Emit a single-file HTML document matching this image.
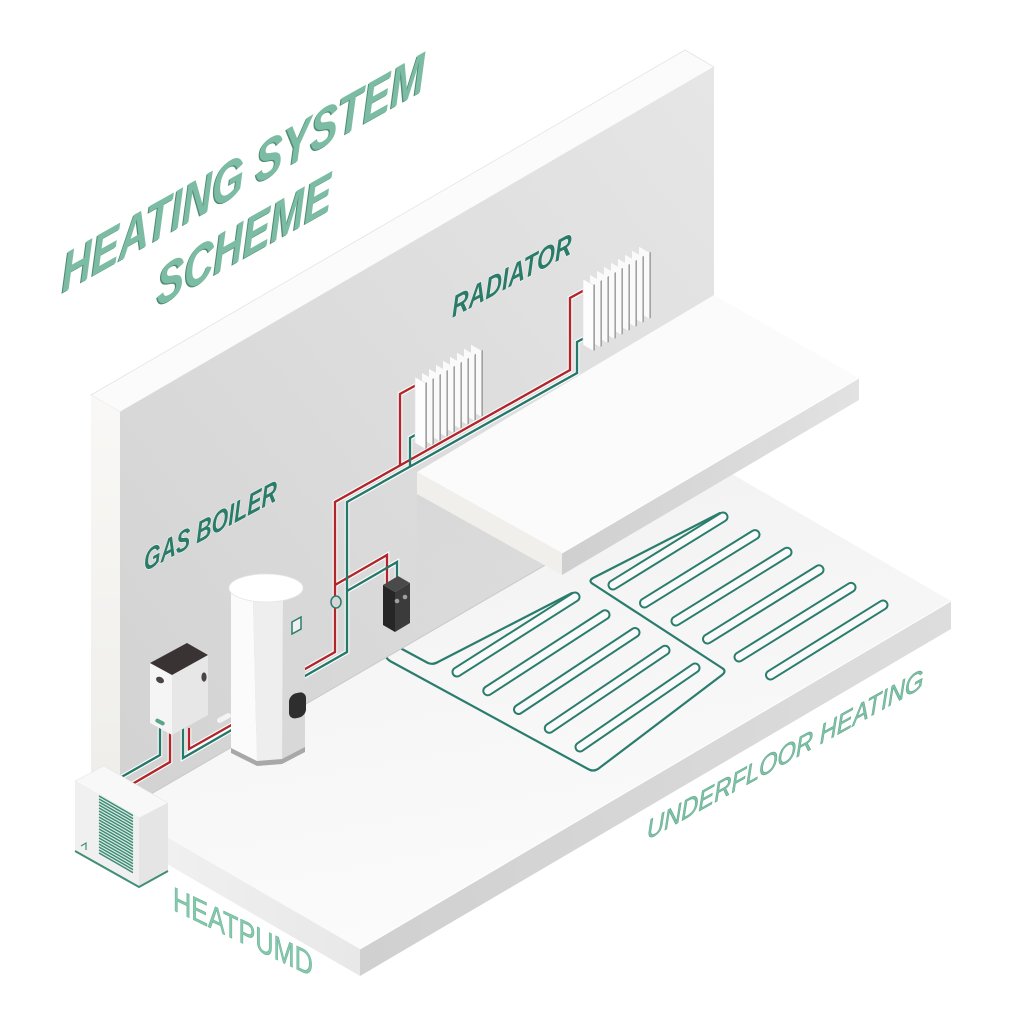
<!DOCTYPE html>
<html><head><meta charset="utf-8">
<style>html,body{margin:0;padding:0;background:#ffffff;}svg{display:block;}</style>
</head>
<body>
<svg width="1024" height="1024" viewBox="0 0 1024 1024" xmlns="http://www.w3.org/2000/svg" font-family="'Liberation Sans', sans-serif">
<defs>
  <linearGradient id="wallG" x1="0" y1="1" x2="1" y2="0">
    <stop offset="0" stop-color="#d2d2d2"/><stop offset="1" stop-color="#e6e6e6"/>
  </linearGradient>
  <linearGradient id="wallL" x1="0" y1="0" x2="0" y2="1">
    <stop offset="0" stop-color="#f9f8f6"/><stop offset="1" stop-color="#eeede9"/>
  </linearGradient>
  <linearGradient id="floorT" x1="0" y1="0" x2="0.3" y2="1">
    <stop offset="0" stop-color="#f0f0f0"/><stop offset="1" stop-color="#fbfbfb"/>
  </linearGradient>
  <linearGradient id="floorR" x1="0" y1="0" x2="1" y2="0">
    <stop offset="0" stop-color="#d0d0d0"/><stop offset="1" stop-color="#dddddd"/>
  </linearGradient>
  <linearGradient id="floorL" x1="0" y1="0" x2="1" y2="0">
    <stop offset="0" stop-color="#f3f3f3"/><stop offset="1" stop-color="#e8e8e8"/>
  </linearGradient>
  <linearGradient id="shelfR" x1="0" y1="0" x2="1" y2="0">
    <stop offset="0" stop-color="#cfcfcf"/><stop offset="1" stop-color="#e2e2e2"/>
  </linearGradient>
  <linearGradient id="under" x1="0" y1="0" x2="0" y2="1">
    <stop offset="0" stop-color="#c9c9c9"/><stop offset="1" stop-color="#d6d6d6" stop-opacity="0"/>
  </linearGradient>
  <g id="rad">
    <polygon points="56,-32.3 66.4,-26.3 66.4,39.7 56,33.7" fill="#fafafa"/><polygon points="66.4,-26.3 68,-27.2 68,38.8 66.4,39.7" fill="#a2a2a2"/>
    <polygon points="49,-28.3 59.4,-22.3 59.4,43.7 49,37.7" fill="#fafafa"/><polygon points="59.4,-22.3 61,-23.2 61,42.8 59.4,43.7" fill="#a2a2a2"/>
    <polygon points="42,-24.2 52.4,-18.2 52.4,47.8 42,41.8" fill="#fafafa"/><polygon points="52.4,-18.2 54,-19.1 54,46.9 52.4,47.8" fill="#a2a2a2"/>
    <polygon points="35,-20.2 45.4,-14.2 45.4,51.8 35,45.8" fill="#fafafa"/><polygon points="45.4,-14.2 47,-15.1 47,50.9 45.4,51.8" fill="#a2a2a2"/>
    <polygon points="28,-16.2 38.4,-10.2 38.4,55.8 28,49.8" fill="#fafafa"/><polygon points="38.4,-10.2 40,-11.1 40,54.9 38.4,55.8" fill="#a2a2a2"/>
    <polygon points="21,-12.1 31.4,-6.1 31.4,59.9 21,53.9" fill="#fafafa"/><polygon points="31.4,-6.1 33,-7 33,59 31.4,59.9" fill="#a2a2a2"/>
    <polygon points="14,-8.1 24.4,-2.1 24.4,63.9 14,57.9" fill="#fafafa"/><polygon points="24.4,-2.1 26,-3 26,63 24.4,63.9" fill="#a2a2a2"/>
    <polygon points="7,-4 17.4,2 17.4,68 7,62" fill="#fafafa"/><polygon points="17.4,2 19,1.1 19,67.1 17.4,68" fill="#a2a2a2"/>
    <polygon points="0,0 10.4,6 10.4,72 0,66" fill="#fdfdfd" stroke="#e2e2e2" stroke-width="0.6"/><polygon points="10.4,6 12,5.1 12,71.1 10.4,72" fill="#a2a2a2"/>
  </g>
</defs>

<rect width="1024" height="1024" fill="#ffffff"/>

<!-- FLOOR SLAB -->
<polygon points="91,793 360,949 360,976 91,820" fill="url(#floorL)"/>
<polygon points="360,949 951,601 951,629 360,976" fill="url(#floorR)"/>
<polygon points="91,793 682,445 951,601 360,949" fill="url(#floorT)"/>
<polyline points="360,949 951,601" stroke="#ffffff" stroke-width="1" fill="none"/>

<!-- UNDERFLOOR PIPES -->
<g fill="none" stroke="#2a7d6d" stroke-width="2.2" stroke-linejoin="round" stroke-linecap="round">
  <path d="M385,632 L385,652 Q385,658 390,661 L588,769 Q593,772 598,769 L722,675 Q727,671 722,668 L593,584 Q588,581 593,578 L720,513"/>
  <path d="M397,632 L397,641 Q397,646 402,649 L428,663 Q433,665 438,662 L572,593"/>
</g>
<g stroke="#2a7d6d" stroke-width="11" stroke-linecap="round">
  <line x1="457" y1="672" x2="575" y2="597"/>
  <line x1="487.8" y1="690.8" x2="605" y2="614.8"/>
  <line x1="518.5" y1="709.5" x2="635" y2="632.5"/>
  <line x1="549.3" y1="728.3" x2="665" y2="650.3"/>
  <line x1="580" y1="747" x2="695" y2="668"/>
  <line x1="613" y1="585" x2="723" y2="517"/>
  <line x1="644.5" y1="603" x2="755" y2="534.6"/>
  <line x1="676" y1="621" x2="787" y2="552.2"/>
  <line x1="707.5" y1="639" x2="819" y2="569.8"/>
  <line x1="739" y1="657" x2="851" y2="587.4"/>
  <line x1="770.5" y1="675" x2="883" y2="605"/>
</g>
<g stroke="#fafafa" stroke-width="7" stroke-linecap="round">
  <line x1="457" y1="672" x2="575" y2="597"/>
  <line x1="487.8" y1="690.8" x2="605" y2="614.8"/>
  <line x1="518.5" y1="709.5" x2="635" y2="632.5"/>
  <line x1="549.3" y1="728.3" x2="665" y2="650.3"/>
  <line x1="580" y1="747" x2="695" y2="668"/>
  <line x1="613" y1="585" x2="723" y2="517"/>
  <line x1="644.5" y1="603" x2="755" y2="534.6"/>
  <line x1="676" y1="621" x2="787" y2="552.2"/>
  <line x1="707.5" y1="639" x2="819" y2="569.8"/>
  <line x1="739" y1="657" x2="851" y2="587.4"/>
  <line x1="770.5" y1="675" x2="883" y2="605"/>
</g>

<!-- WALL -->
<polygon points="91,395 685,50 714,67 120,412" fill="#fbfbfb" stroke="#e4e4e4" stroke-width="0.8"/>
<polygon points="91,395 120,412 120,812 91,795" fill="url(#wallL)"/>
<polygon points="120,412 714,67 714,467 120,812" fill="url(#wallG)"/>
<polygon points="417,494 714,317 714,467 417,640" fill="url(#under)" opacity="0.6"/>
<line x1="120" y1="812" x2="714" y2="467" stroke="#c9c9c9" stroke-width="1"/>

<!-- WALL PIPES -->
<g fill="none" stroke-linejoin="miter" stroke-linecap="butt">
  <g stroke="#ffffff" stroke-width="4.6">
    <path d="M590,287 L570,298 L570,370 L335,502 L335,652 L298,673"/>
    <path d="M592,334 L577,342 L577,373 L347,502 L347,652 L298,680"/>
    <path d="M400,465.5 L400,394 L420,383"/>
    <path d="M410,466.6 L410,438 L424,430"/>
    <path d="M335,585 L387,555 L387,586"/>
    <path d="M347,591 L397,562 L397,586"/>
  </g>
  <g stroke="#b0262b" stroke-width="2.4">
    <path d="M590,287 L570,298 L570,370 L335,502 L335,652 L298,673"/>
    <path d="M400,465.5 L400,394 L420,383"/>
    <path d="M335,585 L387,555 L387,586"/>
  </g>
  <g stroke="#26796a" stroke-width="2.4">
    <path d="M592,334 L577,342 L577,373 L347,502 L347,652 L298,680"/>
    <path d="M410,466.6 L410,438 L424,430"/>
    <path d="M347,591 L397,562 L397,586"/>
  </g>
</g>
<ellipse cx="336" cy="602" rx="5" ry="6" fill="#d6d6d6" stroke="#2a7d6d" stroke-width="1.5"/>

<!-- RADIATORS -->
<use href="#rad" transform="translate(415,377)"/>
<use href="#rad" transform="translate(583,279)"/>

<!-- SHELF -->
<polygon points="417,472 562,553 562,575 417,494" fill="#f1efec"/>
<polygon points="562,553 859,378 859,400 562,575" fill="url(#shelfR)"/>
<polygon points="417,472 714,295 859,378 562,553" fill="#fbfbfb"/>
<polyline points="562,553 859,378" stroke="#ffffff" stroke-width="1" fill="none"/>

<!-- MANIFOLD -->
<polygon points="383,585 395,592 395,632 383,625" fill="#262626"/>
<polygon points="395,592 410,583 410,623 395,632" fill="#3b3b3b"/>
<polygon points="383,585 398,576 410,583 395,592" fill="#4a4a4a"/>
<circle cx="397" cy="601" r="2.3" fill="#a0a0a0"/>
<circle cx="405" cy="597" r="2.3" fill="#a0a0a0"/>

<!-- LOWER PIPES (boiler to tank / heat pump) -->
<g fill="none">
  <g stroke="#ffffff" stroke-width="4.6">
    <path d="M189,728 L189,749 L242,719"/>
    <path d="M183,728 L183,758 L242,724"/>
    <path d="M160,728 L160,755 L118,779"/>
    <path d="M170,730 L170,762 L122,790"/>
  </g>
  <g stroke="#b0262b" stroke-width="2.4">
    <path d="M189,728 L189,749 L242,719"/>
    <path d="M170,730 L170,762 L122,790"/>
  </g>
  <g stroke="#26796a" stroke-width="2.4">
    <path d="M183,728 L183,758 L242,724"/>
    <path d="M160,728 L160,755 L118,779"/>
  </g>
</g>
<rect x="216" y="715" width="16" height="6" rx="3" fill="#f4f4f4" stroke="#d0d0d0" stroke-width="0.6" transform="rotate(-28 224 718)"/>

<!-- GAS BOILER BOX -->
<polygon points="150,663 172,675 172,735 150,723" fill="#f5f5f5"/>
<polygon points="172,675 208,655 208,715 172,735" fill="#e7e7e7"/>
<polygon points="150,663 187,643 208,655 172,675" fill="#3a3333"/>
<ellipse cx="160" cy="680" rx="4.2" ry="3" fill="#4a4444" transform="rotate(28 160 680)"/>
<ellipse cx="204" cy="677" rx="2.6" ry="4.6" fill="#4a4444"/>
<rect x="155" y="720" width="10" height="4" rx="2" fill="#5aa58a" transform="rotate(28 160 722)"/>

<!-- TANK -->
<polygon points="231,590 253,600 257,766 231,753" fill="#fbfbfb"/>
<polygon points="253,600 283,600 282,764 257,766" fill="#eeeeee"/>
<polygon points="283,600 305,588 305,752 282,764" fill="#d8d8d8"/>
<polygon points="231,748 257,761 282,759 305,747 305,752 282,764 257,766 231,753" fill="#a8a8a8"/>
<ellipse cx="266" cy="588" rx="37" ry="14" fill="#ffffff" stroke="#e6e6e6" stroke-width="0.8"/>
<polygon points="292,622 301,617 301,629 292,634" fill="#f0f0f0" stroke="#2a7d6d" stroke-width="1.5"/>
<rect x="289" y="693" width="17" height="25" rx="7" fill="#2e2e2e" transform="skewY(-12)" transform-origin="297 705"/>

<!-- HEAT PUMP -->
<polygon points="75,781 104,766 168,803 139,818" fill="#f8f8f8" stroke="#e6e6e6" stroke-width="0.6"/>
<polygon points="75,781 139,818 139,887 75,851" fill="#f0f0f0"/>
<polygon points="139,818 168,803 168,871 139,887" fill="#e5e5e5"/>
<polygon points="99,794 133,813.6 133,873.6 99,854" fill="#dfe9e5"/>
<g stroke="#3b8c75" stroke-width="1.4">
  <line x1="99" y1="796" x2="133" y2="815.6"/><line x1="99" y1="799" x2="133" y2="818.6"/>
  <line x1="99" y1="802" x2="133" y2="821.6"/><line x1="99" y1="805" x2="133" y2="824.6"/>
  <line x1="99" y1="808" x2="133" y2="827.6"/><line x1="99" y1="811" x2="133" y2="830.6"/>
  <line x1="99" y1="814" x2="133" y2="833.6"/><line x1="99" y1="817" x2="133" y2="836.6"/>
  <line x1="99" y1="820" x2="133" y2="839.6"/><line x1="99" y1="823" x2="133" y2="842.6"/>
  <line x1="99" y1="826" x2="133" y2="845.6"/><line x1="99" y1="829" x2="133" y2="848.6"/>
  <line x1="99" y1="832" x2="133" y2="851.6"/><line x1="99" y1="835" x2="133" y2="854.6"/>
  <line x1="99" y1="838" x2="133" y2="857.6"/><line x1="99" y1="841" x2="133" y2="860.6"/>
  <line x1="99" y1="844" x2="133" y2="863.6"/><line x1="99" y1="847" x2="133" y2="866.6"/>
  <line x1="99" y1="850" x2="133" y2="869.6"/><line x1="99" y1="853" x2="133" y2="872.6"/>
</g>
<polyline points="75,851 139,887 168,871" fill="none" stroke="#3f8f78" stroke-width="2"/>
<path d="M81,846 L86,843 L86,850" fill="none" stroke="#3f8f78" stroke-width="1.2"/>

<!-- TEXT LABELS -->
<g font-weight="bold" font-style="italic">
  <text transform="matrix(0.872,-0.489,0,1,60.8,294.2)" font-size="55" textLength="416" lengthAdjust="spacingAndGlyphs" fill="#4f8b75">HEATING SYSTEM</text>
  <text transform="matrix(0.872,-0.489,0,1,62,293)" font-size="55" textLength="416" lengthAdjust="spacingAndGlyphs" fill="#7dbca4">HEATING SYSTEM</text>
  <text transform="matrix(0.872,-0.489,0,1,155.8,308.2)" font-size="55" textLength="200" lengthAdjust="spacingAndGlyphs" fill="#4f8b75">SCHEME</text>
  <text transform="matrix(0.872,-0.489,0,1,157,307)" font-size="55" textLength="200" lengthAdjust="spacingAndGlyphs" fill="#7dbca4">SCHEME</text>
  <text transform="matrix(0.88,-0.475,0,1,144,572)" font-size="30" textLength="151" lengthAdjust="spacingAndGlyphs" fill="#2b7b69" stroke="#f4f4f4" stroke-width="1.2" paint-order="stroke">GAS BOILER</text>
  <text transform="matrix(0.88,-0.475,0,1,452,318)" font-size="30" textLength="136" lengthAdjust="spacingAndGlyphs" fill="#2b7b69" stroke="#f4f4f4" stroke-width="1.2" paint-order="stroke">RADIATOR</text>
</g>
<text transform="matrix(0.875,-0.484,0,1,647,840)" font-size="27" font-style="italic" textLength="316" lengthAdjust="spacingAndGlyphs" fill="#80c2a8" stroke="#5fa68b" stroke-width="0.6">UNDERFLOOR HEATING</text>
<text transform="matrix(0.902,0.432,0,1,173,910)" font-size="34" textLength="155" lengthAdjust="spacingAndGlyphs" fill="#86c9ad" stroke="#66b093" stroke-width="0.6">HEATPUMD</text>
</svg>
</body></html>
